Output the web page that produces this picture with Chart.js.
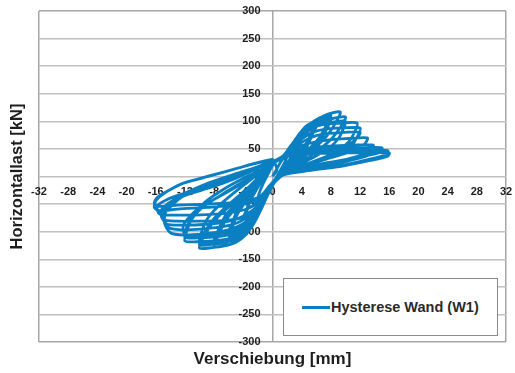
<!DOCTYPE html>
<html>
<head>
<meta charset="utf-8">
<script src="https://cdn.jsdelivr.net/npm/chart.js@4.4.1/dist/chart.umd.min.js"></script>
<style>
  html, body { margin: 0; padding: 0; background: #ffffff; }
  #wrap { position: relative; width: 515px; height: 373px; }
  #legend {
    position: absolute; left: 283px; top: 278px; width: 215px; height: 58px;
    box-sizing: border-box; border: 1.5px solid #8a8a8a; background: #ffffff;
    display: flex; align-items: center; padding-left: 18px;
    font-family: "Liberation Sans", Arial, sans-serif; font-weight: bold; font-size: 14.5px; color: #2a2a2a;
  }
  #legend .swatch { display: inline-block; width: 28px; height: 3px; margin-right: 1px; }
</style>
</head>
<body>
<div id="wrap">
  <canvas id="c" width="515" height="373"></canvas>
  <div id="legend"></div>
</div>
<script>
// Tick labels / axis settings
const xTicks = [-32, -28, -24, -20, -16, -12, -8, -4, 0, 4, 8, 12, 16, 20, 24, 28, 32];
const yTicks = [-300, -250, -200, -150, -100, -50, 0, 50, 100, 150, 200, 250, 300];
const xTitle = "Verschiebung [mm]";
const yTitle = "Horizontallast [kN]";
const seriesName = "Hysterese Wand (W1)";

const zyklus2 = [[0,0],[0.6,14],[1.2,28],[2,38],[1.7,26],[1.1,12],[0.4,-4],[-0.5,-18],[-1.2,-30],[-2,-40],[-1.7,-26],[-1.1,-8],[-0.4,10],[0,20]];
const zyklus4 = [
  [0.5,28],[1.5,38],[2.3,52],[3.1,66],[4,76],[3.6,66],[3.1,48],[2.2,28],[1.2,10],[0.3,-8],[-0.6,-28],[-1.5,-46],[-2.4,-62],[-3.2,-72],[-4,-78],[-3.6,-66],[-3.1,-46],[-2.2,-24],[-1.2,-2],[-0.4,16],[0,24],
  [0.5,27],[1.5,36],[2.3,49],[3.1,62],[4,72],[3.6,62],[3.1,45],[2.2,26],[1.2,8],[0.3,-9],[-0.6,-28],[-1.5,-44],[-2.4,-59],[-3.2,-68],[-4,-74],[-3.6,-62],[-3.1,-43],[-2.2,-21],[-1.2,0],[-0.4,17],[0,25]
];
const zyklus6 = [
  [0.4,28],[1.5,38],[2.5,55],[3.5,74],[4.5,90],[5.3,97],[6,100],[5.6,88],[4.8,64],[3.4,40],[2,18],[1,5],[0.2,-10],[-0.6,-30],[-1.4,-52],[-2.3,-74],[-3.3,-92],[-4.4,-103],[-6,-108],[-5.6,-95],[-4.8,-68],[-3.4,-40],[-2,-12],[-0.9,10],[0,26],
  [0.4,28],[1.5,37],[2.5,52],[3.5,70],[4.5,85],[5.3,92],[6,95],[5.6,83],[4.8,59],[3.4,36],[2,16],[1,4],[0.2,-11],[-0.6,-31],[-1.4,-51],[-2.3,-71],[-3.3,-88],[-4.4,-98],[-6,-103],[-5.6,-90],[-4.8,-63],[-3.4,-36],[-2,-9],[-0.9,12],[0,27],
  [0.4,27],[1.7,38],[2.7,54],[3.7,70],[4.7,84],[5.4,90],[6,92],[5.6,80],[4.8,57],[3.4,34],[2,15],[1,3],[0.2,-12],[-0.6,-32],[-1.4,-51],[-2.3,-70],[-3.3,-86],[-4.4,-96],[-6,-100],[-5.6,-87],[-4.8,-60],[-3.4,-33],[-2,-7],[-0.9,13],[0,27]
];
const zyklus8 = [
  [0.4,28],[1.7,38],[2.7,54],[3.8,75],[5,93],[6.4,106],[8,112],[7.6,99],[6.4,70],[4.4,42],[2.5,20],[1.2,4],[0.2,-10],[-0.6,-30],[-1.5,-56],[-2.5,-82],[-3.7,-104],[-5,-118],[-6.5,-125],[-8,-127],[-7.6,-112],[-6.4,-79],[-4.4,-48],[-2.4,-16],[-1,10],[0,27],
  [0.4,28],[1.7,37],[2.7,51],[3.8,71],[5,88],[6.4,101],[8,107],[7.6,94],[6.4,65],[4.4,38],[2.5,18],[1.2,3],[0.2,-11],[-0.6,-31],[-1.5,-55],[-2.5,-79],[-3.7,-100],[-5,-113],[-6.5,-120],[-8,-122],[-7.6,-106],[-6.4,-74],[-4.4,-44],[-2.4,-13],[-1,12],[0,28],
  [0.4,28],[1.8,39],[2.8,54],[4,74],[5.2,89],[6.5,99],[8,103],[7.6,90],[6.4,62],[4.4,36],[2.5,16],[1.2,2],[0.2,-12],[-0.6,-32],[-1.5,-54],[-2.5,-77],[-3.7,-97],[-5,-110],[-6.5,-116],[-8,-118],[-7.6,-102],[-6.4,-70],[-4.4,-40],[-2.4,-10],[-1,14],[0,29]
];
const zyklus10 = [
  [0.3,28],[1.6,38],[2.6,50],[3.6,68],[4.7,87],[6,102],[7.6,113],[9.3,117],[8.9,103],[7.4,73],[5.1,44],[2.8,20],[1.2,3],[0.2,-12],[-0.6,-32],[-1.5,-58],[-2.5,-84],[-3.7,-106],[-5,-119],[-6.6,-126],[-8.3,-129],[-10,-130],[-9.6,-114],[-8,-81],[-5.5,-49],[-3,-18],[-1.2,8],[0,28],
  [0.3,28],[1.7,38],[2.7,51],[3.8,71],[5,87],[6.4,98],[8.2,105],[10,108],[9.6,95],[8,67],[5.5,40],[3,18],[1.2,3],[0.2,-12],[-0.6,-32],[-1.5,-57],[-2.5,-81],[-3.7,-101],[-5,-113],[-6.6,-120],[-8.3,-123],[-10,-124],[-9.6,-108],[-8,-76],[-5.5,-45],[-3,-16],[-1.2,9],[0,28],
  [0.3,29],[1.8,39],[2.8,54],[4,72],[5.3,86],[6.8,95],[8.4,99],[10,100],[9.7,86],[9,68],[7.6,50],[5.5,34],[3,17],[1.2,2],[0.2,-12],[-0.6,-32],[-1.5,-56],[-2.5,-79],[-3.7,-98],[-5,-109],[-6.6,-115],[-8.3,-118],[-10,-119],[-9.7,-100],[-9,-78],[-7.6,-56],[-5.5,-32],[-3,-6],[-1.2,13],[0,29]
];
const zyklus12 = [
  [0.3,28],[1.5,38],[2.7,55],[4,74],[5.5,88],[7.2,95],[9.4,97],[11.6,97],[11.3,82],[10.4,62],[8.8,45],[6.4,31],[3.5,17],[1.2,3],[0.2,-12],[-0.6,-32],[-1.6,-58],[-2.7,-82],[-4,-100],[-5.6,-111],[-7.5,-116],[-9.8,-118],[-12,-117],[-11.7,-97],[-10.9,-74],[-9.2,-52],[-6.6,-30],[-3.6,-6],[-1.3,13],[0,29],
  [0.3,28],[1.5,37],[2.7,52],[4,68],[5.5,80],[7.2,86],[9.6,88],[12,88],[11.7,74],[10.8,56],[9,41],[6.6,28],[3.6,15],[1.2,2],[0.2,-12],[-0.6,-31],[-1.6,-55],[-2.7,-77],[-4,-94],[-5.6,-104],[-7.5,-109],[-9.8,-111],[-12,-110],[-11.7,-90],[-10.8,-68],[-9.2,-46],[-6.8,-24],[-3.8,-2],[-1.3,14],[0,29],
  [0.3,28],[1.8,38],[3,52],[4.4,65],[6,74],[7.8,78],[9.9,80],[12,80],[11.6,70],[9.6,49],[6.6,30],[3.6,14],[1.2,2],[0.2,-12],[-0.6,-31],[-1.6,-53],[-2.7,-74],[-4,-90],[-5.6,-99],[-7.5,-104],[-9.8,-106],[-12,-105],[-12.2,-88],[-10.5,-62],[-7,-34],[-3.8,-10],[-1.3,12],[0,29]
];
const zyklus14 = [
  [0.3,27],[1.5,36],[3,46],[5,52],[7.5,55],[10.5,57],[13.8,57],[13.4,48],[12,38],[9.5,29],[6.5,20],[3.5,12],[1.2,3],[0.2,-12],[-0.6,-30],[-1.6,-52],[-2.8,-72],[-4.5,-89],[-6.8,-99],[-9.5,-104],[-12.2,-106],[-14,-102],[-14.8,-84],[-14.6,-64],[-12.5,-38],[-9,-14],[-5,4],[-1.6,20],[0,30],
  [0.3,27],[1.5,35],[3,43],[5,48],[7.5,50],[10.5,52],[14,52],[13.6,45],[11.2,34],[7.7,22],[4.2,13],[1.2,2],[0.2,-12],[-0.6,-29],[-1.6,-49],[-2.8,-67],[-4.5,-82],[-6.8,-91],[-9.5,-95],[-12.2,-97],[-14.2,-93],[-15,-76],[-14.6,-58],[-12.4,-34],[-8.8,-12],[-4.8,6],[-1.5,20],[0,29],
  [0.3,27],[1.8,35],[3.5,42],[6,46],[9,47],[11.5,48],[14,48],[13.6,41],[11.2,31],[7.7,20],[4.2,12],[1.2,2],[0.2,-12],[-0.6,-28],[-1.6,-46],[-2.8,-62],[-4.5,-75],[-6.8,-83],[-9.5,-87],[-12,-88],[-14.5,-86],[-15,-70],[-14.4,-52],[-12,-30],[-8,-10],[-4.2,6],[-1.4,19],[0,29]
];
const zyklus15 = [
  [0.3,28],[1.6,37],[3,50],[5,60],[7.5,66],[10.5,69],[13,70],[12.7,60],[11.5,49],[9.5,40],[7,30],[4.2,18],[1.2,3],[0.2,-12],[-0.6,-30],[-1.6,-50],[-2.8,-66],[-4.5,-76],[-7,-80],[-10,-81],[-13,-81],[-15,-78],[-15.3,-62],[-14,-46],[-11.5,-32],[-8.5,-20],[-5.5,-6],[-2.5,12],[0,28],
  [0.3,27],[1.8,36],[3.5,44],[6,49],[9,51],[12,52],[15,52],[14.7,44],[13,38],[10.5,32],[7.5,25],[4.5,16],[1.2,2],[0.2,-12],[-0.7,-29],[-2,-47],[-3.5,-59],[-6,-66],[-9,-69],[-12.5,-70],[-15.5,-68],[-15.8,-54],[-14.5,-42],[-12,-30],[-9,-17],[-6,-4],[-3,11],[0,27]
];
const zyklus16 = [
  [0.3,28],[2,39],[5,44],[9,47],[13,48],[15.8,47],[15.6,40],[13.2,31],[9.5,20],[5,12],[1.5,4],[0.2,-12],[-0.8,-30],[-2.5,-45],[-5,-52],[-9,-56],[-13,-59],[-15.5,-62],[-16.2,-56],[-16,-44],[-15,-32],[-12.6,-14],[-8.8,0],[-4.8,15],[-1.8,26],[0,31],
  [0.3,27],[2,37],[5,41],[9,43],[13,43],[16,43],[15.8,37],[13.4,29],[9.6,19],[5.2,11],[1.5,3],[0.2,-12],[-0.8,-28],[-2.5,-41],[-5,-47],[-9,-50],[-13,-52],[-15.6,-54],[-16.2,-48],[-15.8,-38],[-14.6,-28],[-12.2,-12],[-8.4,2],[-4.5,16],[-1.6,26],[0,30],[0.6,12],[0,0]
];

const allPoints = [].concat(zyklus2, zyklus4, zyklus6, zyklus8, zyklus10, zyklus12, zyklus14, zyklus15, zyklus16)
  .map(p => ({x: p[0], y: p[1]}));

const lineColor = '#0a7fc1';
const gridColor = '#c0c0c0';
const frameColor = '#a6a6a6';
const clear = 'rgba(0,0,0,0)';
const tickFont = {family: '"Liberation Sans", Arial, sans-serif', weight: 'bold', size: 11};

const chart = new Chart(document.getElementById('c'), {
  type: 'scatter',
  data: {
    datasets: [{
      label: seriesName,
      data: allPoints,
      showLine: true,
      borderColor: lineColor,
      backgroundColor: lineColor,
      borderWidth: 2.8,
      pointRadius: 0,
      tension: 0.25
    }]
  },
  options: {
    responsive: false,
    animation: false,
    layout: {padding: {left: 3.6, right: 9, top: 11, bottom: 2}},
    plugins: {legend: {display: false}, tooltip: {enabled: false}},
    scales: {
      x: {
        type: 'linear', position: 'center', min: -32, max: 32,
        afterBuildTicks: s => { s.ticks = xTicks.map(v => ({value: v})); },
        ticks: {font: tickFont, color: '#1e1e1e', padding: 0, maxRotation: 0, autoSkip: false},
        grid: {
          drawTicks: true, tickLength: 9, tickColor: clear, lineWidth: 1.5,
          color: c => (c.tick && (c.tick.value === -32 || c.tick.value === 0 || c.tick.value === 32)) ? frameColor : clear
        },
        border: {display: false}
      },
      y: {
        type: 'linear', position: 'center', min: -300, max: 300,
        afterBuildTicks: s => { s.ticks = yTicks.map(v => ({value: v})); },
        ticks: {font: tickFont, color: '#1e1e1e', padding: 0, autoSkip: false},
        grid: {
          drawTicks: true, tickLength: 12, tickColor: clear, lineWidth: 1.5,
          color: c => (c.tick && (c.tick.value === -300 || c.tick.value === 300)) ? frameColor : gridColor
        },
        border: {display: false}
      },
      xt: {
        type: 'linear', position: 'bottom', min: -32, max: 32,
        ticks: {display: false}, grid: {display: false, drawTicks: false}, border: {display: false},
        title: {display: true, text: xTitle, color: '#1e1e1e', padding: {top: 6.8, bottom: 1.8},
          font: {family: '"Liberation Sans", Arial, sans-serif', weight: 'bold', size: 17}}
      },
      yt: {
        type: 'linear', position: 'left', min: -300, max: 300,
        ticks: {display: false}, grid: {display: false, drawTicks: false}, border: {display: false},
        title: {display: true, text: yTitle, color: '#1e1e1e', padding: {top: 4, bottom: 11.6},
          font: {family: '"Liberation Sans", Arial, sans-serif', weight: 'bold', size: 16.5}}
      }
    }
  }
});

// HTML legend built from the chart's dataset
const legendEl = document.getElementById('legend');
chart.data.datasets.forEach(ds => {
  const sw = document.createElement('span');
  sw.className = 'swatch';
  sw.style.background = ds.borderColor;
  const tx = document.createElement('span');
  tx.textContent = ds.label;
  legendEl.appendChild(sw);
  legendEl.appendChild(tx);
});
</script>
</body>
</html>
